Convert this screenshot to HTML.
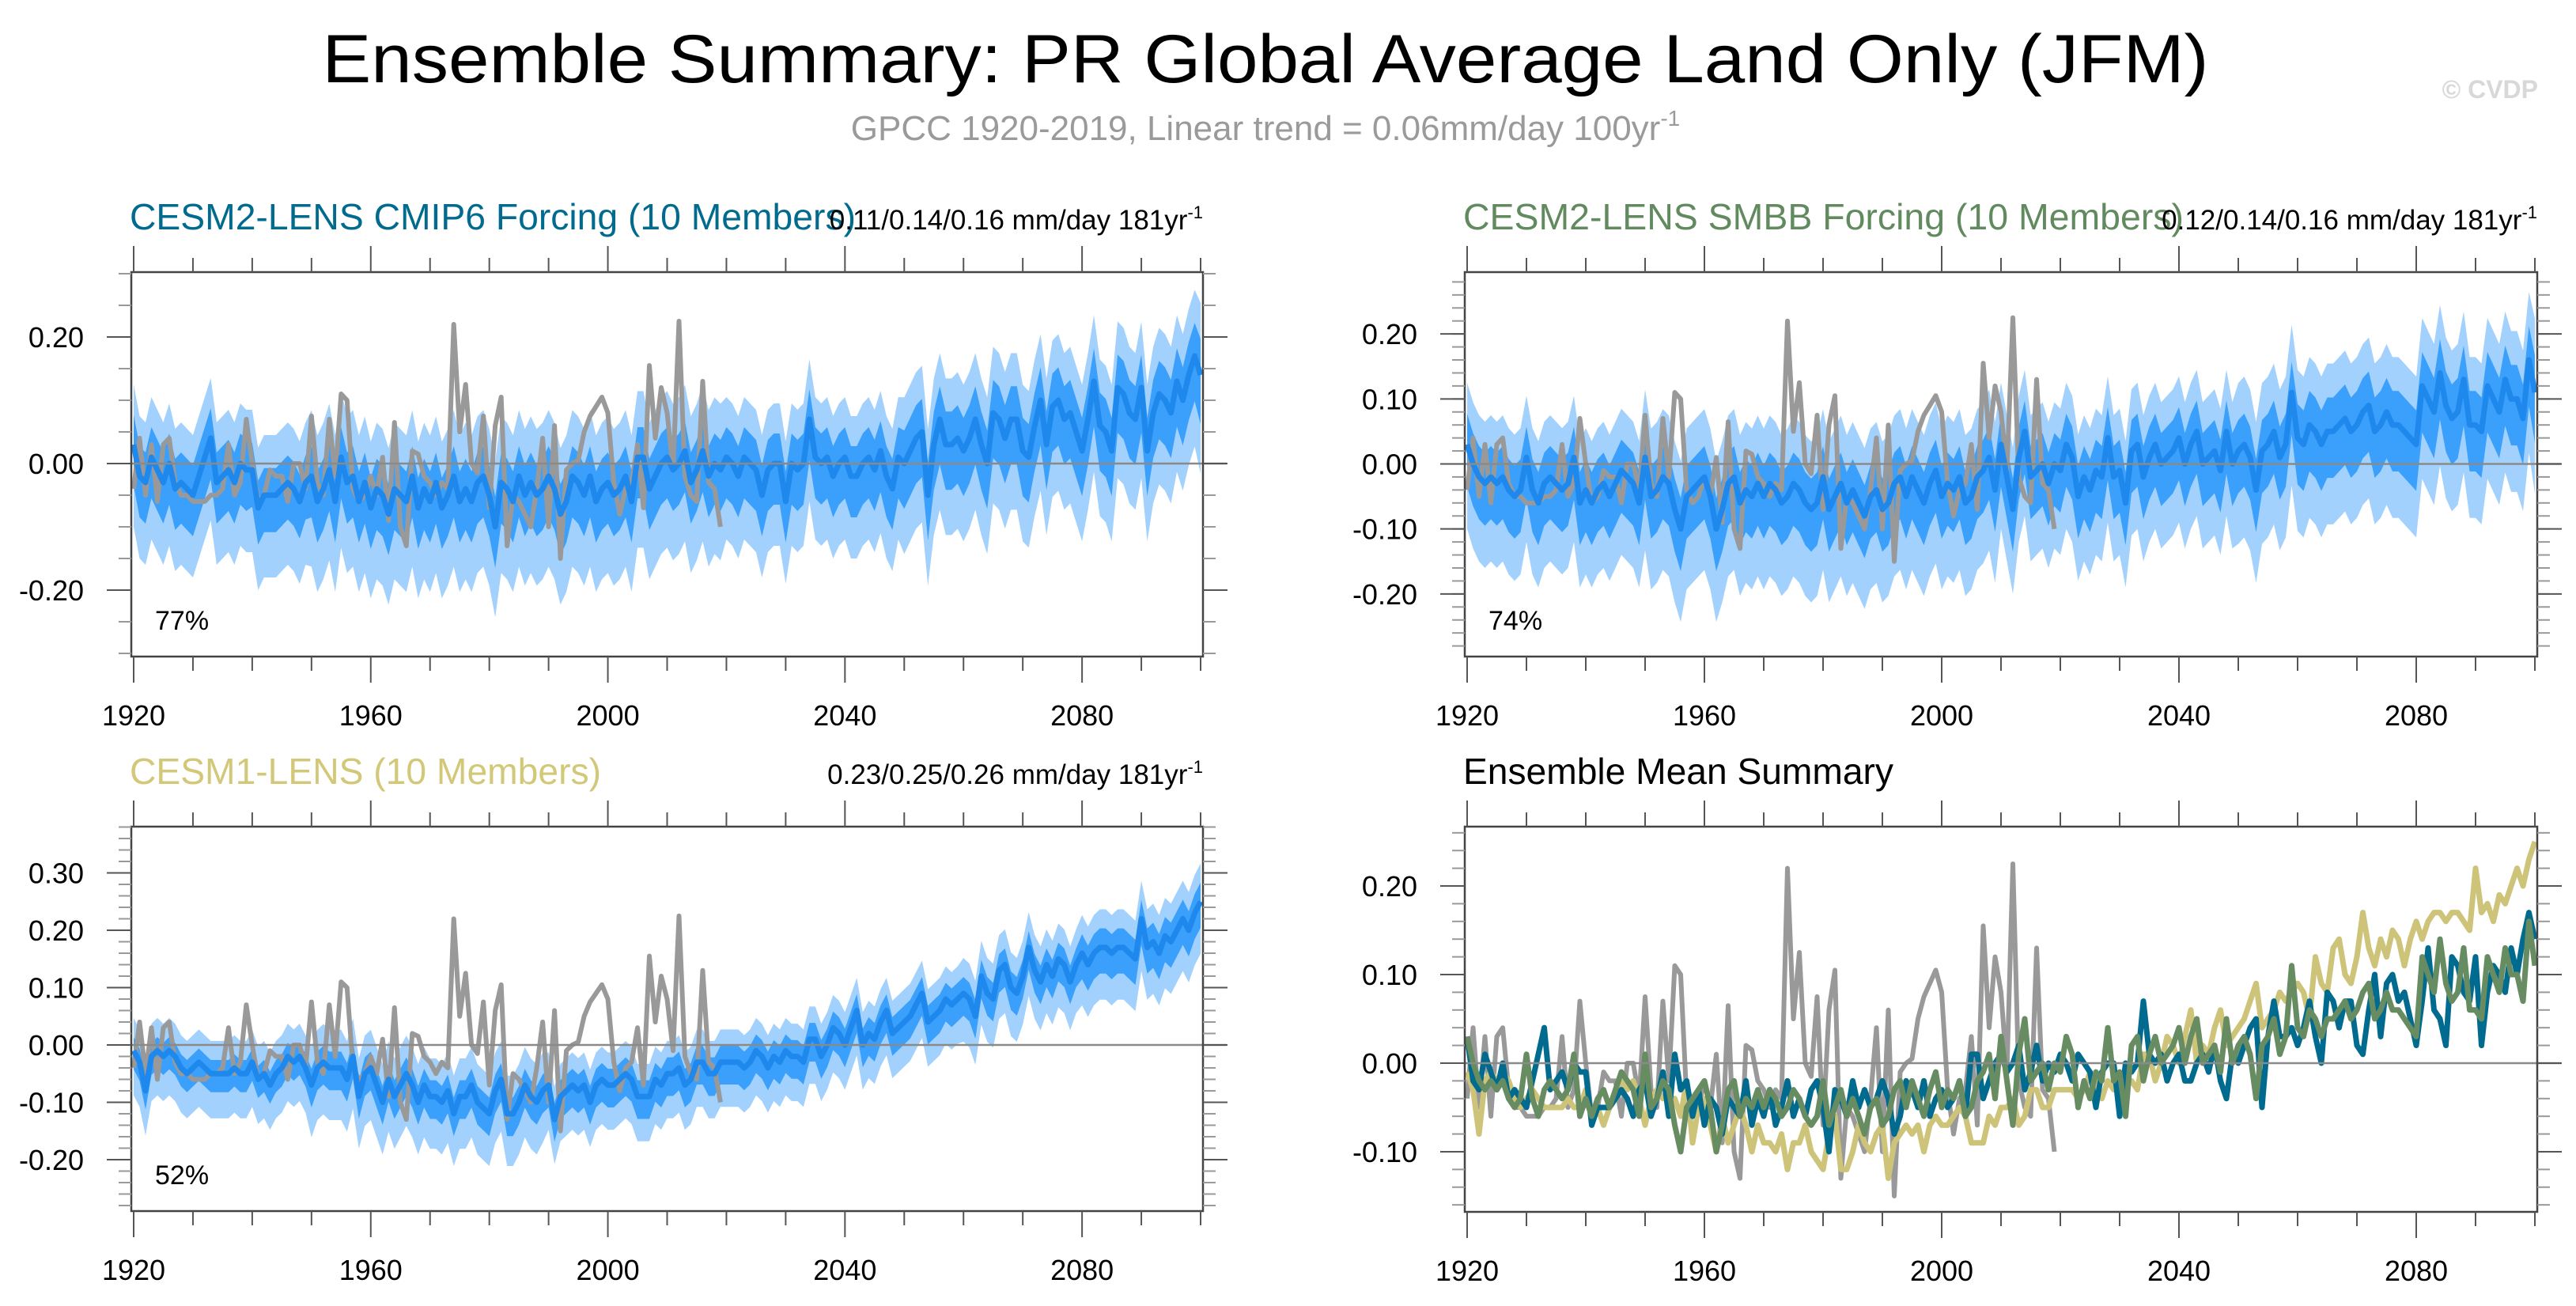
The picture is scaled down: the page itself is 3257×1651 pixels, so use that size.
<!DOCTYPE html>
<html><head><meta charset="utf-8"><style>
html,body{margin:0;padding:0;background:#fff;}
svg{display:block;font-family:"Liberation Sans",sans-serif;}
</style></head><body>
<svg id="chart" width="3257" height="1651" viewBox="0 0 3257 1651" xmlns="http://www.w3.org/2000/svg">
<text x="1600" y="104" font-size="86" text-anchor="middle" textLength="2385" lengthAdjust="spacingAndGlyphs" fill="#000">Ensemble Summary: PR Global Average Land Only (JFM)</text>
<text x="1600" y="177" font-size="44" text-anchor="middle" fill="#9a9a9a">GPCC 1920-2019, Linear trend = 0.06mm/day 100yr<tspan font-size="28" dy="-18">-1</tspan></text>
<text x="3209" y="124" font-size="32" font-weight="bold" text-anchor="end" fill="#d8d8d8">© CVDP</text>
<g id="panels"></g>
</svg>
<script>
const years = []; for (let y = 1920; y <= 2100; y++) years.push(y);
const obsYears = []; for (let y = 1920; y <= 2019; y++) obsYears.push(y);
const gpcc = [-0.04,0.04,-0.05,0.03,-0.06,0.03,0.04,-0.03,-0.05,-0.05,
-0.06,-0.06,-0.06,-0.05,-0.05,-0.04,0.03,-0.05,-0.03,0.07,
0.00,-0.06,-0.05,-0.01,-0.02,-0.02,-0.06,0.00,0.00,-0.04,
0.075,-0.03,-0.05,0.07,-0.02,0.11,0.10,-0.04,-0.06,-0.05,
-0.02,-0.05,0.01,-0.09,0.065,-0.10,-0.13,0.02,0.015,-0.02,
-0.03,-0.05,-0.03,-0.04,0.22,0.05,0.125,0.00,-0.015,0.075,
-0.07,0.06,0.105,-0.13,-0.05,-0.06,-0.08,-0.10,-0.04,0.04,
-0.10,0.06,-0.15,-0.01,0.00,0.005,0.05,0.075,0.09,0.105,
0.08,-0.03,-0.08,-0.04,-0.03,0.03,-0.07,0.155,0.04,0.12,
0.08,-0.01,0.225,-0.02,-0.05,-0.06,0.13,-0.03,-0.04,-0.10];
const cmip6Mean = [0.03,-0.02,-0.03,0.01,-0.01,-0.03,0.00,-0.04,-0.03,-0.04,
-0.05,-0.02,0.01,0.04,-0.03,-0.02,-0.01,-0.03,0.00,-0.01,
-0.01,-0.07,-0.05,-0.05,-0.05,-0.04,-0.03,-0.04,-0.06,-0.03,
-0.02,-0.06,-0.04,-0.01,-0.06,0.01,-0.03,-0.02,-0.06,-0.03,
-0.07,-0.04,-0.05,-0.08,-0.04,-0.05,-0.06,-0.02,-0.07,-0.04,
-0.06,-0.03,-0.07,-0.05,-0.02,-0.06,-0.04,-0.06,-0.03,-0.02,
-0.05,-0.10,-0.03,-0.04,-0.06,-0.02,-0.05,-0.03,-0.05,-0.04,
-0.02,-0.04,-0.08,-0.06,-0.02,-0.03,-0.05,-0.02,-0.06,-0.04,
-0.03,-0.05,-0.04,-0.02,-0.06,0.01,0.01,-0.04,-0.02,0.00,
0.01,-0.01,0.00,0.02,-0.03,-0.01,0.02,-0.02,0.00,-0.01,
0.01,0.00,-0.02,0.01,0.00,-0.01,-0.05,-0.01,0.00,0.00,
-0.06,0.00,-0.01,0.00,0.07,0.01,0.00,0.01,-0.02,0.00,
0.01,-0.02,-0.02,0.00,0.01,-0.01,0.02,-0.02,-0.04,0.01,
0.00,0.02,0.04,0.05,-0.05,0.03,0.07,0.03,0.03,0.04,
0.02,0.04,0.07,0.03,0.00,0.08,0.07,0.04,0.07,0.07,
0.02,0.01,0.06,0.10,0.03,0.09,0.10,0.07,0.08,0.05,
0.02,0.07,0.13,0.06,0.05,0.02,0.12,0.11,0.08,0.07,
0.12,0.02,0.08,0.11,0.10,0.08,0.13,0.10,0.14,0.17,
0.14];
const smbbMean = [0.03,0.00,-0.02,-0.03,-0.02,-0.03,-0.02,-0.04,-0.05,-0.04,
0.01,-0.04,-0.06,-0.03,-0.02,-0.03,-0.04,-0.03,0.01,-0.06,
-0.04,-0.06,-0.04,-0.03,-0.05,-0.03,-0.01,-0.02,-0.03,-0.06,
0.01,-0.05,-0.04,-0.02,-0.03,-0.07,-0.10,-0.05,-0.04,-0.03,
-0.02,-0.05,-0.10,-0.07,-0.03,-0.02,-0.06,-0.04,-0.05,-0.03,
-0.05,-0.03,-0.04,-0.06,-0.05,-0.03,-0.04,-0.06,-0.07,-0.06,
-0.02,-0.07,-0.05,-0.03,-0.06,-0.04,-0.06,-0.08,-0.05,-0.04,
-0.07,-0.06,-0.03,-0.02,-0.05,-0.02,-0.04,-0.06,-0.03,-0.01,
-0.05,-0.03,-0.04,-0.02,-0.06,-0.05,-0.02,-0.01,0.01,-0.04,
0.03,-0.02,-0.07,0.01,0.05,-0.02,-0.01,0.00,-0.03,0.00,
-0.01,0.03,0.01,-0.05,-0.02,-0.04,-0.01,-0.02,0.04,-0.02,
-0.01,-0.06,0.02,0.03,-0.02,0.01,0.03,0.00,0.01,0.02,
0.04,0.00,0.03,0.05,0.00,0.01,0.02,-0.01,0.05,0.00,
0.02,0.03,0.01,-0.04,0.02,0.03,0.05,0.01,0.03,0.11,
0.04,0.03,0.06,0.05,0.03,0.05,0.05,0.06,0.07,0.05,
0.06,0.08,0.09,0.05,0.06,0.08,0.06,0.06,0.05,0.04,
0.03,0.12,0.10,0.08,0.14,0.09,0.07,0.08,0.13,0.06,
0.06,0.05,0.12,0.10,0.08,0.13,0.10,0.10,0.07,0.16,
0.11];
const cesm1Mean = [-0.01,-0.03,-0.08,-0.02,-0.01,-0.02,-0.01,-0.02,-0.04,-0.05,
-0.04,-0.03,-0.04,-0.05,-0.05,-0.05,-0.05,-0.04,-0.05,-0.05,
-0.03,-0.06,-0.05,-0.07,-0.05,-0.04,-0.02,-0.03,-0.02,-0.04,
-0.07,-0.04,-0.03,-0.04,-0.04,-0.04,-0.06,-0.02,-0.09,-0.05,
-0.04,-0.07,-0.10,-0.06,-0.09,-0.07,-0.05,-0.07,-0.10,-0.07,
-0.09,-0.09,-0.10,-0.08,-0.12,-0.09,-0.09,-0.07,-0.10,-0.11,
-0.12,-0.08,-0.06,-0.12,-0.12,-0.10,-0.07,-0.09,-0.10,-0.08,
-0.07,-0.13,-0.09,-0.08,-0.07,-0.08,-0.07,-0.10,-0.07,-0.06,
-0.07,-0.07,-0.06,-0.05,-0.06,-0.09,-0.09,-0.09,-0.06,-0.07,
-0.05,-0.05,-0.04,-0.07,-0.06,-0.03,-0.03,-0.05,-0.05,-0.03,
-0.03,-0.03,-0.03,-0.04,-0.03,-0.01,-0.02,-0.04,-0.02,-0.03,
-0.01,-0.02,-0.02,-0.03,0.01,0.01,-0.02,0.00,0.03,0.02,
0.00,0.03,0.06,0.00,0.02,0.01,0.04,0.06,0.02,0.03,
0.04,0.05,0.07,0.09,0.04,0.05,0.06,0.08,0.07,0.08,
0.09,0.08,0.05,0.12,0.09,0.08,0.13,0.14,0.10,0.09,
0.12,0.17,0.13,0.11,0.14,0.12,0.15,0.14,0.11,0.14,
0.16,0.14,0.16,0.17,0.17,0.16,0.17,0.17,0.16,0.15,
0.22,0.17,0.18,0.16,0.19,0.18,0.20,0.22,0.20,0.23,
0.25];
const cmip6Inner = [0.05,0.05,0.045,0.05,0.05,0.05,0.05,0.05,0.05,0.05,0.05,0.05,0.05,0.055,0.055,0.055,0.055,0.055,0.06];
const cmip6Outer = [0.10,0.10,0.10,0.11,0.11,0.11,0.11,0.11,0.11,0.11,0.10,0.10,0.10,0.11,0.11,0.11,0.11,0.11,0.12];
const smbbInner = [0.05,0.05,0.05,0.05,0.05,0.05,0.05,0.05,0.05,0.05,0.05,0.05,0.05,0.05,0.055,0.055,0.055,0.055,0.06];
const smbbOuter = [0.10,0.10,0.10,0.11,0.11,0.11,0.11,0.11,0.11,0.10,0.10,0.10,0.10,0.11,0.11,0.11,0.11,0.11,0.12];
const cesm1Inner = [0.025,0.025,0.025,0.03,0.03,0.03,0.03,0.03,0.03,0.03,0.03,0.03,0.03,0.03,0.03,0.03,0.035,0.035,0.035];
const cesm1Outer = [0.06,0.06,0.06,0.07,0.07,0.07,0.07,0.06,0.06,0.06,0.06,0.06,0.06,0.06,0.065,0.065,0.07,0.07,0.07];
const p1Ticks = [-0.2,0,0.2], p2Ticks = [-0.2,-0.1,0,0.1,0.2], p3Ticks = [-0.2,-0.1,0,0.1,0.2,0.3], p4Ticks = [-0.1,0,0.1,0.2];
const xTicks = [1920,1960,2000,2040,2080];

const NS = 'http://www.w3.org/2000/svg';
const root = document.getElementById('panels');
function mk(tag, attrs, parent) {
  const e = document.createElementNS(NS, tag);
  for (const k in attrs) e.setAttribute(k, attrs[k]);
  (parent || root).appendChild(e);
  return e;
}
function panel(cfg) {
  const g = mk('g', {});
  
  
  const xs = yr => cfg.x0 + 3 + (yr - 1920) / 180 * (cfg.x1 - cfg.x0 - 6);
  const ys = v => cfg.y1 - (v - cfg.ymin) / (cfg.ymax - cfg.ymin) * (cfg.y1 - cfg.y0);
  const clip = mk('clipPath', {id: cfg.name + '-clip'}, g);
  mk('rect', {x: cfg.x0, y: cfg.y0, width: cfg.x1 - cfg.x0, height: cfg.y1 - cfg.y0}, clip);
  const plot = mk('g', {'clip-path': 'url(#' + cfg.name + '-clip)'}, g);
  const band = (mean, half, col, nm) => {
    let up = [], lo = [];
    mean.forEach((m, i) => { const h = half[Math.floor(i / 10)]; up.push(xs(years[i]) + ',' + ys(m + h * 0.95)); lo.unshift(xs(years[i]) + ',' + ys(m - h * 1.3)); });
    const p = mk('polygon', {points: up.concat(lo).join(' '), fill: col}, plot);
    
    
  };
  const line = (xv, vals, col, w, nm) => {
    const p = mk('polyline', {points: vals.map((v, i) => xs(xv[i]) + ',' + ys(v)).join(' '), fill: 'none', stroke: col, 'stroke-width': w, 'stroke-linejoin': 'round'}, plot);
    
    
  };
  if (cfg.mean) {
    band(cfg.mean, cfg.outer, '#a3d1fd', 'ensemble-range-band');
    band(cfg.mean, cfg.inner, '#3aa0fb', 'interquartile-band');
  }
  mk('line', {x1: cfg.x0, x2: cfg.x1 + 30, y1: ys(0), y2: ys(0), stroke: '#8a8a8a', 'stroke-width': 2.5}, g);
  if (cfg.mean) {
    line(obsYears, gpcc, '#999', 6, 'gpcc-observed-line');
    line(years, cfg.mean, '#1e88ec', 7, 'ensemble-mean-line');
  } else {
    line(obsYears, gpcc, '#999', 6, 'gpcc-observed-line');
    line(years, cesm1Mean, '#cdc47a', 7, 'cesm1-mean-line');
    line(years, cmip6Mean, '#006b8e', 7, 'cmip6-mean-line');
    line(years, smbbMean, '#678c62', 7, 'smbb-mean-line');
  }
  mk('rect', {x: cfg.x0, y: cfg.y0, width: cfg.x1 - cfg.x0, height: cfg.y1 - cfg.y0, fill: 'none', stroke: '#444', 'stroke-width': 2.5}, g);
  for (let yr = 1920; yr <= 2100; yr += 10) {
    const maj = (yr - 1920) % 40 === 0, x = xs(yr), L = maj ? 33 : 18;
    mk('line', {x1: x, x2: x, y1: cfg.y0, y2: cfg.y0 - L, stroke: '#555', 'stroke-width': 2}, g);
    mk('line', {x1: x, x2: x, y1: cfg.y1, y2: cfg.y1 + L, stroke: '#555', 'stroke-width': 2}, g);
  }
  xTicks.forEach(t => {
    const tx = mk('text', {x: xs(t), y: cfg.y1 + 87, 'font-size': 36, 'text-anchor': 'middle'}, g);
    tx.textContent = t;
    
    
  });
  const st = cfg.minor;
  for (let v = Math.ceil(cfg.ymin / st) * st; v <= cfg.ymax + 1e-9; v += st) {
    const y = ys(v);
    mk('line', {x1: cfg.x0, x2: cfg.x0 - 16, y1: y, y2: y, stroke: '#999', 'stroke-width': 2}, g);
    mk('line', {x1: cfg.x1, x2: cfg.x1 + 16, y1: y, y2: y, stroke: '#999', 'stroke-width': 2}, g);
  }
  cfg.ticks.forEach(t => {
    const y = ys(t);
    mk('line', {x1: cfg.x0, x2: cfg.x0 - 31, y1: y, y2: y, stroke: '#555', 'stroke-width': 2}, g);
    mk('line', {x1: cfg.x1, x2: cfg.x1 + 31, y1: y, y2: y, stroke: '#555', 'stroke-width': 2}, g);
    const tx = mk('text', {x: cfg.x0 - 60, y: y + 13, 'font-size': 36, 'text-anchor': 'end'}, g);
    tx.textContent = t.toFixed(2);
    
    
  });
  const ti = mk('text', {x: cfg.x0 - 2, y: cfg.y0 - 54, 'font-size': 46, fill: cfg.titleColor, textLength: cfg.titleW, lengthAdjust: 'spacingAndGlyphs'}, g);
  ti.textContent = cfg.title;
  
  
  if (cfg.trend) {
    const tr = mk('text', {x: cfg.x1, y: cfg.y0 - 54, 'font-size': 35, 'text-anchor': 'end'}, g);
    tr.innerHTML = cfg.trend + ' mm/day 181yr<tspan font-size="22" dy="-14">-1</tspan>';
    
    
  }
  if (cfg.pct) {
    const pc = mk('text', {x: cfg.x0 + 30, y: cfg.y1 - 34, 'font-size': 34}, g);
    pc.textContent = cfg.pct;
    
    
  }
}
panel({name: 'cmip6-panel', x0: 166, x1: 1521, y0: 344, y1: 830, ymin: -0.305, ymax: 0.3025, ticks: p1Ticks, minor: 0.05,
  mean: cmip6Mean, inner: cmip6Inner, outer: cmip6Outer, title: 'CESM2-LENS CMIP6 Forcing (10 Members)', titleColor: '#006b8e', titleW: 918,
  trend: '0.11/0.14/0.16', pct: '77%'});
panel({name: 'smbb-panel', x0: 1852, x1: 3208, y0: 344, y1: 830, ymin: -0.2963, ymax: 0.2951, ticks: p2Ticks, minor: 0.02,
  mean: smbbMean, inner: smbbInner, outer: smbbOuter, title: 'CESM2-LENS SMBB Forcing (10 Members)', titleColor: '#618a5e', titleW: 911,
  trend: '0.12/0.14/0.16', pct: '74%'});
panel({name: 'cesm1-panel', x0: 166, x1: 1521, y0: 1045, y1: 1531, ymin: -0.2897, ymax: 0.3807, ticks: p3Ticks, minor: 0.02,
  mean: cesm1Mean, inner: cesm1Inner, outer: cesm1Outer, title: 'CESM1-LENS (10 Members)', titleColor: '#d2c878', titleW: 596,
  trend: '0.23/0.25/0.26', pct: '52%'});
panel({name: 'ensemble-mean-panel', x0: 1852, x1: 3208, y0: 1045, y1: 1532, ymin: -0.1679, ymax: 0.2670, ticks: p4Ticks, minor: 0.02,
  title: 'Ensemble Mean Summary', titleColor: '#000', titleW: 544});
</script>
</body></html>
